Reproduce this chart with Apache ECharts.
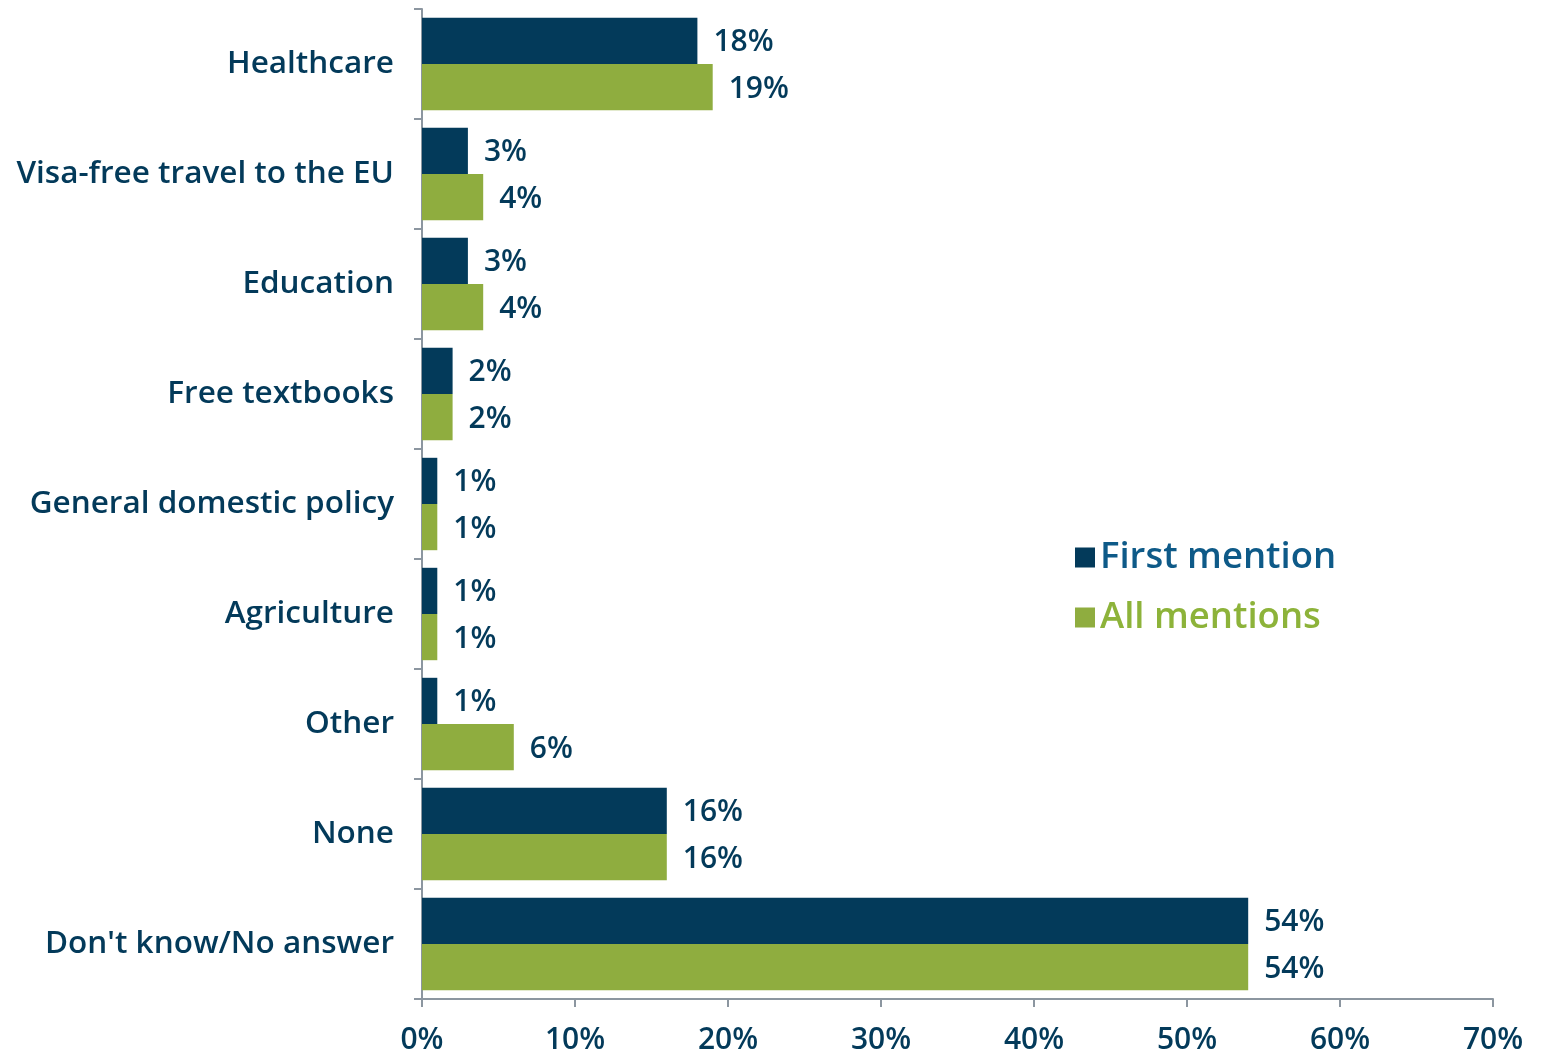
<!DOCTYPE html>
<html><head><meta charset="utf-8">
<script src="https://cdn.jsdelivr.net/npm/echarts@6/dist/echarts.min.js"></script>
<style>html,body{margin:0;padding:0;background:#fff}#c{width:1543px;height:1055px}</style>
</head><body><div id="c"></div>
<script>
const categories = ["Healthcare","Visa-free travel to the EU","Education","Free textbooks","General domestic policy","Agriculture","Other","None","Don't know/No answer"];
const firstMention = [18,3,3,2,1,1,1,16,54];
const allMentions = [19,4,4,2,1,1,6,16,54];
const xTicks = [0,10,20,30,40,50,60,70];
const FONT = "'Open Sans', 'DejaVu Sans', sans-serif";
const chart = echarts.init(document.getElementById('c'));
const lbl = {show:true,position:'right',distance:16,offset:[0,2],formatter:'{c}%',color:'#033A5A',fontFamily:FONT,fontWeight:600,fontSize:30};
chart.setOption({
  animation:false,
  grid:{left:422,top:9,right:50,bottom:53,containLabel:false},
  legend:{orient:'vertical',left:1070,top:534,itemWidth:20,itemHeight:20,itemGap:23,icon:'rect',
    data:[{name:'First mention',textStyle:{color:'#0E5A88'}},{name:'All mentions',textStyle:{color:'#8DB33A'}}],
    textStyle:{fontFamily:FONT,fontWeight:600,fontSize:36.5,padding:[0,0,0,0]}},
  xAxis:{type:'value',min:0,max:70,interval:10,
    axisLine:{show:true,lineStyle:{color:'#8C96A0',width:2}},
    axisTick:{show:true,length:8,lineStyle:{color:'#8C96A0',width:2}},
    splitLine:{show:false},
    axisLabel:{formatter:'{value}%',color:'#033A5A',fontFamily:FONT,fontWeight:600,fontSize:30,margin:26}},
  yAxis:{type:'category',data:categories,inverse:true,
    axisLine:{show:true,lineStyle:{color:'#8C96A0',width:2}},
    axisTick:{show:true,length:8,lineStyle:{color:'#8C96A0',width:2}},
    axisLabel:{color:'#033A5A',fontFamily:FONT,fontWeight:600,fontSize:31.5,margin:28,padding:[4,0,0,0]}},
  series:[
    {name:'First mention',type:'bar',data:firstMention,barGap:'0%',barCategoryGap:'16%',itemStyle:{color:'#033A5A'},label:lbl},
    {name:'All mentions',type:'bar',data:allMentions,itemStyle:{color:'#8FAD3F'},label:lbl}
  ]
});
</script></body></html>
